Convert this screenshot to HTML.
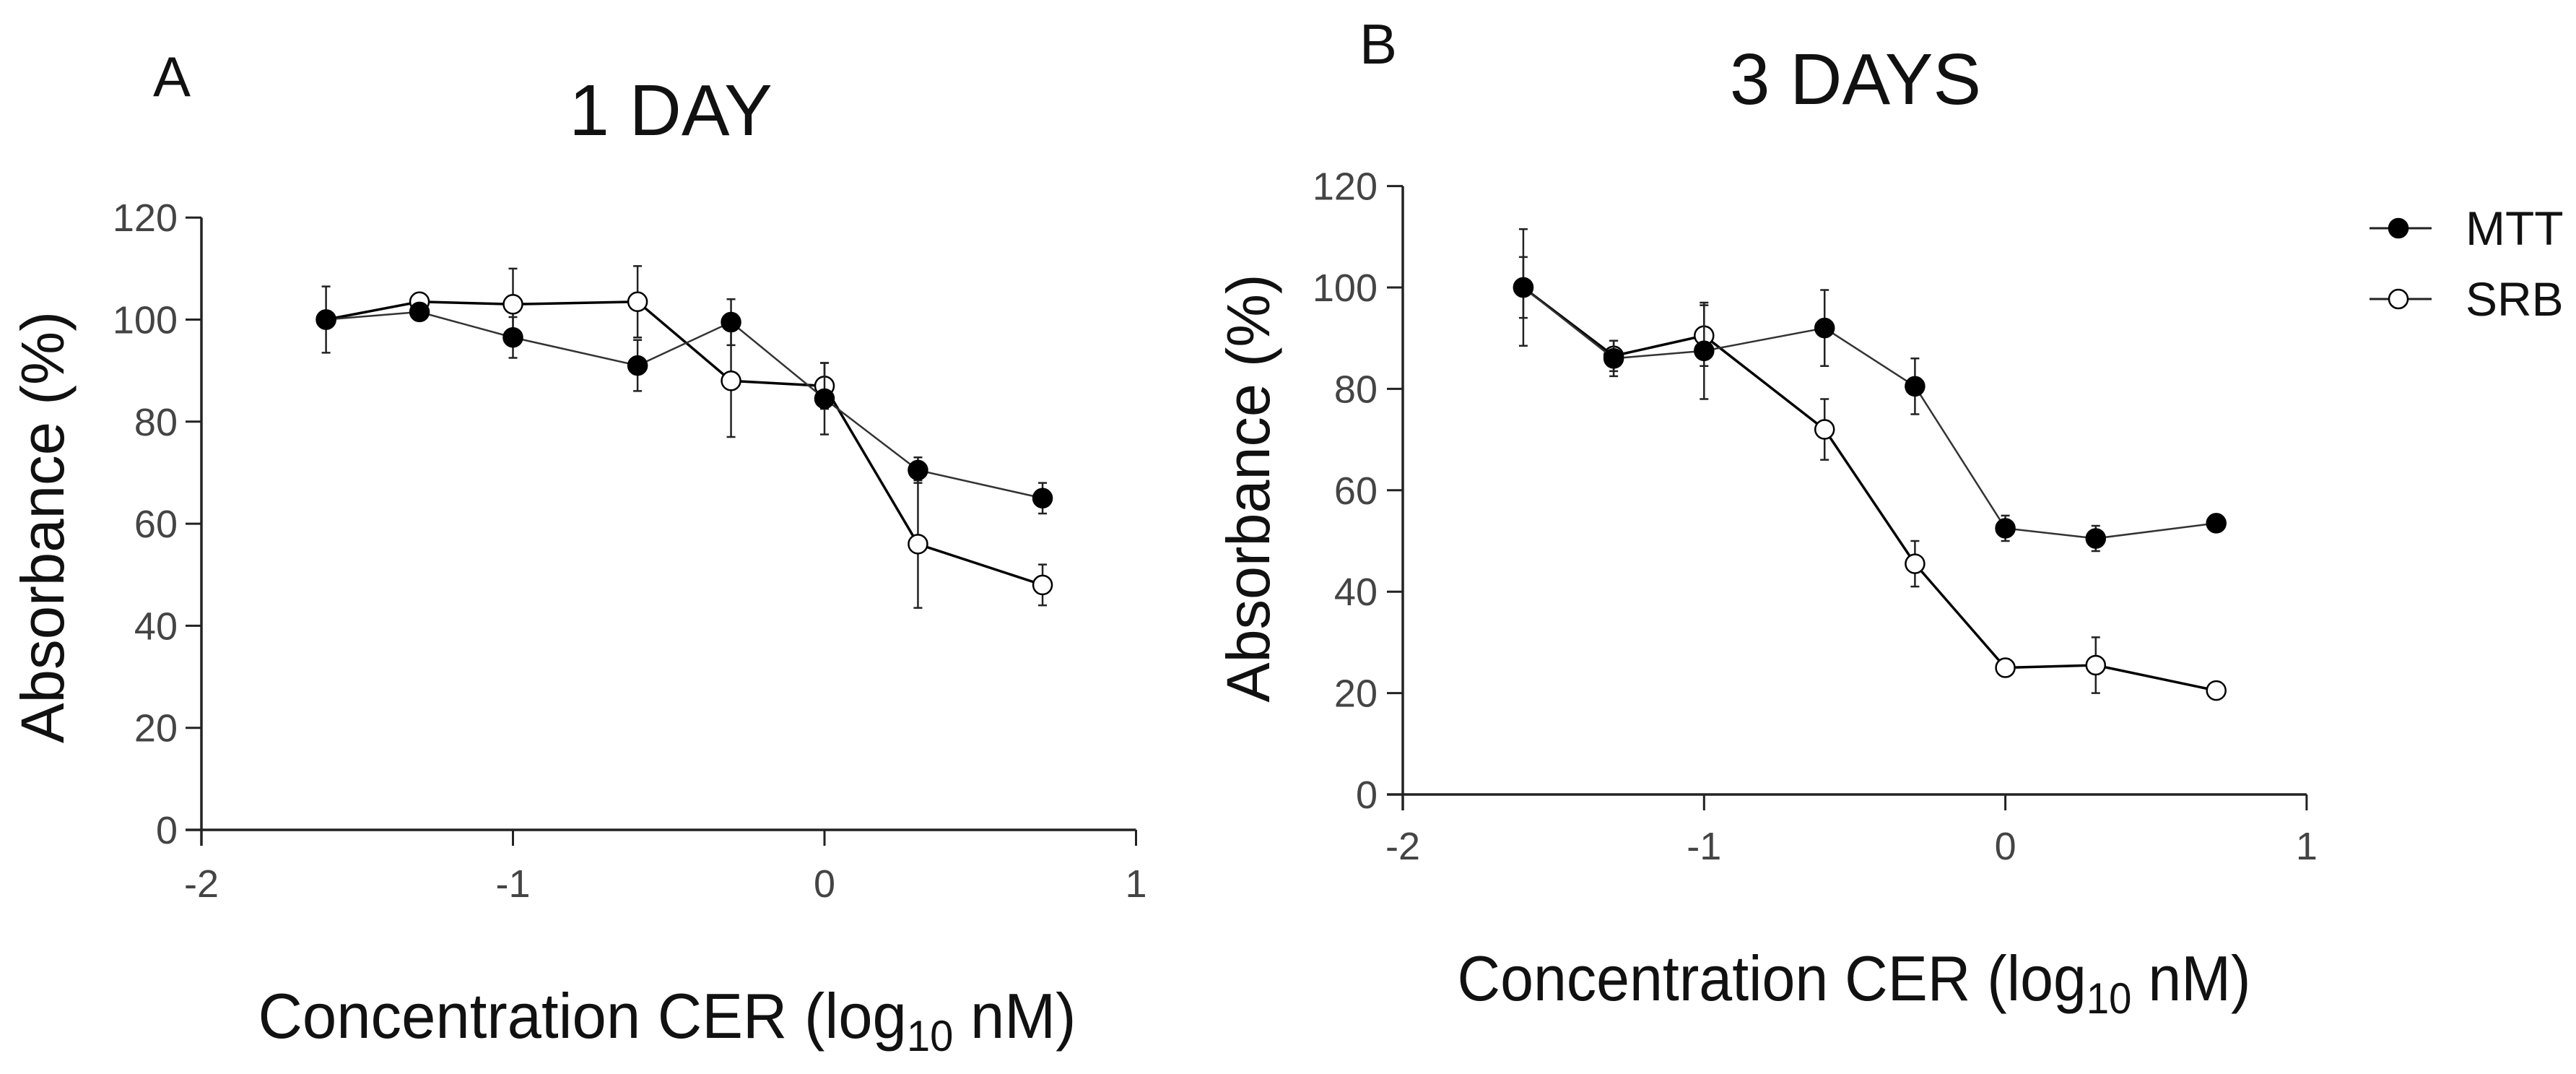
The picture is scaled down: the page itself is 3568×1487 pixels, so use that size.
<!DOCTYPE html>
<html><head><meta charset="utf-8"><style>
html,body{margin:0;padding:0;background:#fff;}
svg{display:block;font-family:"Liberation Sans",sans-serif;}
</style></head><body>
<svg id="chart" width="3568" height="1487" viewBox="0 0 3568 1487" xmlns="http://www.w3.org/2000/svg">
<rect width="3568" height="1487" fill="#fff"/>
<g id="root"></g>
</svg>
<script>
const xValues = [-1.6, -1.3, -1, -0.6, -0.3, 0, 0.3, 0.7];
const xTicks = [-2, -1, 0, 1];
const yTicks = [0, 20, 40, 60, 80, 100, 120];
const mttA = [100, 101.5, 96.5, 91, 99.5, 84.5, 70.5, 65];
const mttAErr = [6.5, 1, 4, 5, 4.5, 7, 2.5, 3];
const srbA = [100, 103.5, 103, 103.5, 88, 87, 56, 48];
const srbAErr = [0, 0.5, 7, 7, 11, 4.5, 12.5, 4];
const mttB = [100, 86, 87.5, 92, 80.5, 52.5, 50.5, 53.5];
const mttBErr = [6, 3.5, 9.5, 7.5, 5.5, 2.5, 2.5, 1.5];
const srbB = [100, 86.5, 90.5, 72, 45.5, 25, 25.5, 20.5];
const srbBErr = [11.5, 3, 6, 6, 4.5, 0, 5.5, 0];

const NS = "http://www.w3.org/2000/svg";
const root = document.getElementById('root');
function mk(tag, attrs, parent, text) {
  const e = document.createElementNS(NS, tag);
  for (const k in attrs) e.setAttribute(k, attrs[k]);
  if (text !== undefined) e.textContent = text;
  (parent || root).appendChild(e);
  return e;
}

const panels = [
  {id:'a', x0:279, ux:431.5, y0:1149, uy:7.065, mtt:mttA, mttE:mttAErr, srb:srbA, srbE:srbAErr,
   xlabBase:1242, ylabRight:246, title:'1 DAY', titleX:929, titleY:187, letter:'A', letterX:212, letterY:133,
   xtitleX:924, xtitleY:1437, xtitleLen:1133, ytitleX:88, ytitleY:730, ytitleLen:598, srbW:3.5, mttW:2.5},
  {id:'b', x0:1943, ux:417.3, y0:1100, uy:7.02, mtt:mttB, mttE:mttBErr, srb:srbB, srbE:srbBErr,
   xlabBase:1190, ylabRight:1908, title:'3 DAYS', titleX:2570, titleY:144, letter:'B', letterX:1883, letterY:88,
   xtitleX:2568, xtitleY:1385, xtitleLen:1099, ytitleX:1758, ytitleY:676, ytitleLen:593, srbW:3.5, mttW:2.5}
];

panels.forEach(p => {
  const g = mk('g', {});
  
  
  const X = v => p.x0 + (v + 2) * p.ux;
  const Y = v => p.y0 - v * p.uy;

  const letter = mk('text', {x:p.letterX, y:p.letterY, 'font-size':78, fill:'#111'}, g, p.letter);
  
  
  const title = mk('text', {x:p.titleX, y:p.titleY, 'font-size':100, 'text-anchor':'middle', fill:'#111'}, g, p.title);
  
  

  const yAxis = mk('line', {x1:X(-2), y1:Y(120), x2:X(-2), y2:Y(0)+22, stroke:'#222', 'stroke-width':3.5}, g);
  
  
  const xAxis = mk('line', {x1:X(-2)-22, y1:Y(0), x2:X(1), y2:Y(0), stroke:'#222', 'stroke-width':3.5}, g);
  
  
  yTicks.forEach(t => {
    const tk = mk('line', {x1:X(-2)-22, y1:Y(t), x2:X(-2), y2:Y(t), stroke:'#222', 'stroke-width':3}, g);
    
    
    const lb = mk('text', {x:p.ylabRight, y:Y(t)+19, 'font-size':54, 'text-anchor':'end', fill:'#444'}, g, String(t));
    
    
  });
  xTicks.forEach(t => {
    const tk = mk('line', {x1:X(t), y1:Y(0), x2:X(t), y2:Y(0)+22, stroke:'#222', 'stroke-width':3}, g);
    
    
    const lb = mk('text', {x:X(t), y:p.xlabBase, 'font-size':54, 'text-anchor':'middle', fill:'#444'}, g, String(t));
    
    
  });

  const xt = mk('text', {x:p.xtitleX, y:p.xtitleY, 'font-size':88, 'text-anchor':'middle', fill:'#111', textLength:p.xtitleLen, lengthAdjust:'spacingAndGlyphs'}, g);
  
  
  mk('tspan', {}, xt, 'Concentration CER (log');
  mk('tspan', {'font-size':60, dy:18}, xt, '10');
  mk('tspan', {dy:-18}, xt, ' nM)');

  const yt = mk('text', {x:0, y:0, 'font-size':84, 'text-anchor':'middle', fill:'#111', textLength:p.ytitleLen, lengthAdjust:'spacingAndGlyphs',
    transform:`translate(${p.ytitleX},${p.ytitleY}) rotate(-90)`}, g, 'Absorbance (%)');
  
  

  function series(vals, errs, filled, w, name) {
    const sg = mk('g', {}, g);
    
    
    vals.forEach((v, i) => {
      const e = errs[i];
      if (e > 0) {
        const eb = mk('path', {d:`M${X(xValues[i])},${Y(v+e)}V${Y(v-e)}M${X(xValues[i])-6},${Y(v+e)}h12M${X(xValues[i])-6},${Y(v-e)}h12`, stroke:'#222', 'stroke-width':2.5, fill:'none'}, sg);
        
        
      }
    });
    const pts = vals.map((v, i) => X(xValues[i]) + ',' + Y(v)).join(' ');
    const pl = mk('polyline', {points:pts, fill:'none', stroke: filled ? '#333' : '#000', 'stroke-width':w}, sg);
    
    
    return sg;
  }
  function markers(sg, vals, filled, name) {
    vals.forEach((v, i) => {
      const c = mk('circle', {cx:X(xValues[i]), cy:Y(v), r:13, fill: filled ? '#000' : '#fff', stroke:'#000', 'stroke-width':2.5}, sg);
      
      
    });
  }
  const s1 = series(p.srb, p.srbE, false, p.srbW, 'srb');
  const s2 = series(p.mtt, p.mttE, true, p.mttW, 'mtt');
  markers(s1, p.srb, false, 'srb');
  markers(s2, p.mtt, true, 'mtt');
});

const lg = mk('g', {});


[['MTT', true, 316], ['SRB', false, 414]].forEach(([lab, f, y]) => {
  const ent = mk('g', {}, lg);
  
  
  mk('line', {x1:3282, y1:y, x2:3368, y2:y, stroke:'#222', 'stroke-width':3}, ent);
  mk('circle', {cx:3322, cy:y, r:13, fill: f ? '#000' : '#fff', stroke:'#000', 'stroke-width':2.5}, ent);
  mk('text', {x:3415, y:y+23, 'font-size':66, fill:'#111'}, ent, lab);
});
</script>
</body></html>
